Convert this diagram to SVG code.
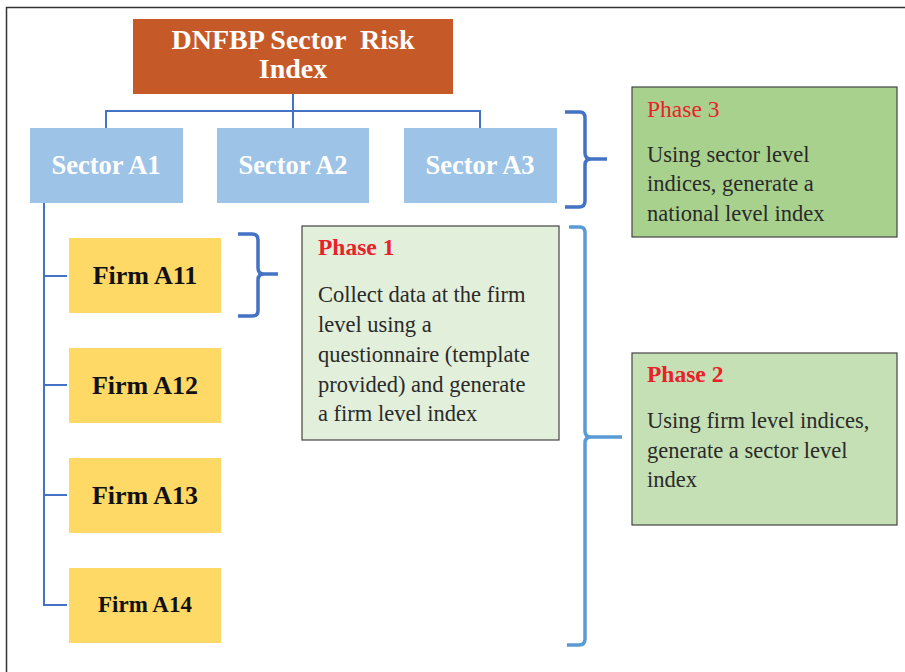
<svg xmlns="http://www.w3.org/2000/svg" width="905" height="672" viewBox="0 0 905 672">
<style>
.t{font-family:"Liberation Serif","DejaVu Serif",serif;}
.title{font-size:28px;font-weight:bold;fill:#fff;text-anchor:middle;}
.sec{font-size:26.5px;font-weight:bold;fill:#fff;text-anchor:middle;}
.firm{font-size:26px;font-weight:bold;fill:#111;text-anchor:middle;}
.ph{font-size:23.5px;fill:#e8212a;}
.body{font-size:22.5px;fill:#2a2a2a;}
.conn{fill:none;stroke:#4472c4;stroke-width:2;}
.br1{fill:none;stroke:#4472c4;stroke-width:3.5;stroke-linejoin:round;}
.br2{fill:none;stroke:#5b9bd5;stroke-width:3.5;stroke-linejoin:round;}
.pbox{stroke:#444;stroke-width:1.2;}
</style>
<rect width="905" height="672" fill="#fff"/>
<path d="M6.5,672 V7.5 H905" fill="none" stroke="#333" stroke-width="1.5"/>
<g id="connectors">
<path class="conn" d="M293,94 V128 M106,128 V111 H480 V128"/>
<path class="conn" d="M44,203 V605 H67 M44,276 H67 M44,385 H67 M44,495 H67"/>
</g>
<g id="root">
<rect x="133" y="19" width="320" height="75" fill="#c55a28"/>
<text class="t title" x="293" y="49" xml:space="preserve">DNFBP Sector  Risk</text>
<text class="t title" x="293" y="78">Index</text>
</g>
<g id="sectorA1"><rect x="30" y="128" width="153" height="75" fill="#9dc3e6"/><text class="t sec" x="106" y="174">Sector A1</text></g>
<g id="sectorA2"><rect x="217" y="128" width="152" height="75" fill="#9dc3e6"/><text class="t sec" x="293" y="174">Sector A2</text></g>
<g id="sectorA3"><rect x="404" y="128" width="153" height="75" fill="#9dc3e6"/><text class="t sec" x="480" y="174">Sector A3</text></g>
<g id="firmA11"><rect x="69" y="238" width="152" height="75" fill="#ffd966"/><text class="t firm" x="145" y="284">Firm A11</text></g>
<g id="firmA12"><rect x="69" y="348" width="152" height="75" fill="#ffd966"/><text class="t firm" x="145" y="394">Firm A12</text></g>
<g id="firmA13"><rect x="69" y="458" width="152" height="75" fill="#ffd966"/><text class="t firm" x="145" y="504">Firm A13</text></g>
<g id="firmA14"><rect x="69" y="568" width="152" height="75" fill="#ffd966"/><text class="t firm" x="145" y="612" style="font-size:23px">Firm A14</text></g>
<g id="brace1"><path class="br1" d="M238,234 H252 Q258,234 258,240 V268 Q258,274 264,274 H278 M264,274 Q258,274 258,280 V311 Q258,316 252,316 H238"/></g>
<g id="brace3"><path class="br1" d="M565,112 H580 Q585,112 585,118 V153 Q585,159 591,159 H607 M591,159 Q585,159 585,165 V201 Q585,207 579,207 H565"/></g>
<g id="brace2"><path class="br2" d="M569,227 H580 Q585,227 585,233 V431 Q585,437 591,437 H622 M591,437 Q585,437 585,443 V639 Q585,645 579,645 H567"/></g>
<g id="phase1">
<rect class="pbox" x="302" y="226" width="257" height="214" fill="#e2efda"/>
<text class="t ph" x="318" y="255" font-weight="bold">Phase 1</text>
<text class="t body" x="318" y="302">Collect data at the firm</text>
<text class="t body" x="318" y="332">level using a</text>
<text class="t body" x="318" y="362">questionnaire (template</text>
<text class="t body" x="318" y="392">provided) and generate</text>
<text class="t body" x="318" y="421">a firm level index</text>
</g>
<g id="phase3">
<rect class="pbox" x="632" y="87" width="265" height="150" fill="#a9d18e"/>
<text class="t ph" x="647" y="117">Phase 3</text>
<text class="t body" x="647" y="162">Using sector level</text>
<text class="t body" x="647" y="191">indices, generate a</text>
<text class="t body" x="647" y="221">national level index</text>
</g>
<g id="phase2">
<rect class="pbox" x="632" y="353" width="265" height="172" fill="#c5e0b4"/>
<text class="t ph" x="647" y="382" font-weight="bold">Phase 2</text>
<text class="t body" x="647" y="428">Using firm level indices,</text>
<text class="t body" x="647" y="458">generate a sector level</text>
<text class="t body" x="647" y="487">index</text>
</g>
</svg>
